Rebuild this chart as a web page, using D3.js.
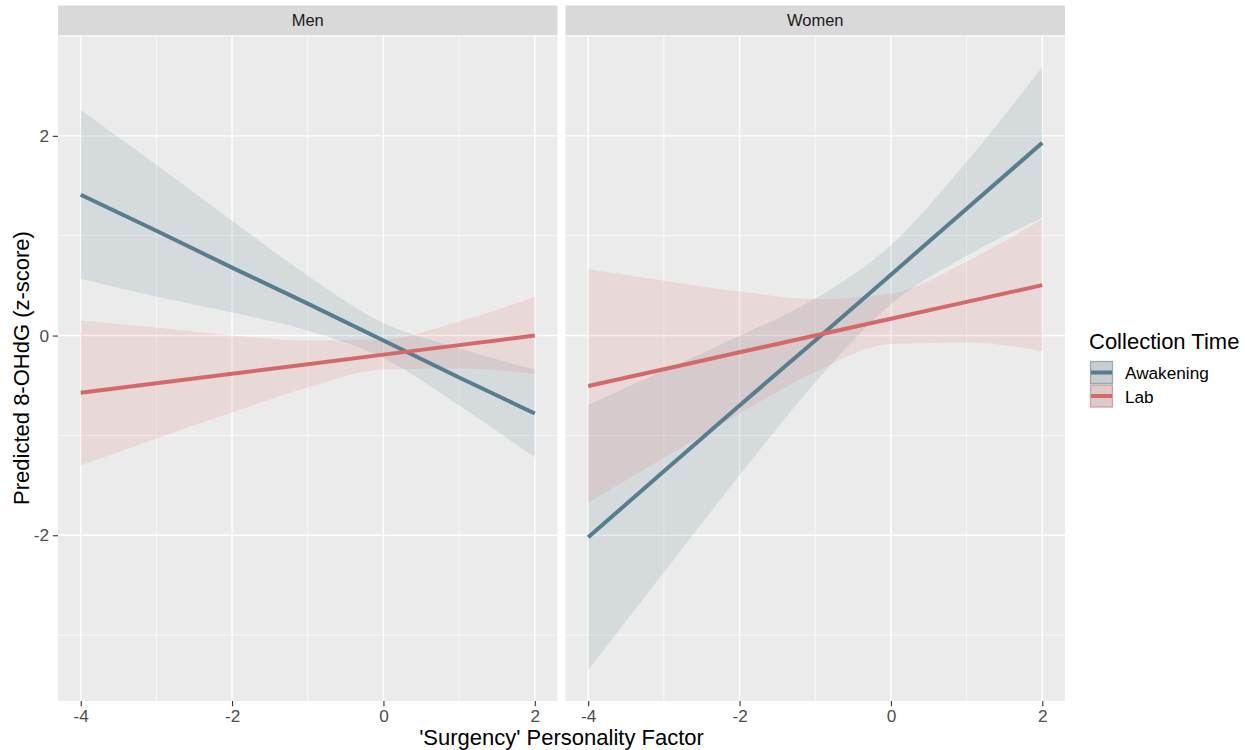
<!DOCTYPE html>
<html>
<head>
<meta charset="utf-8">
<script src="https://cdn.jsdelivr.net/npm/d3@7"></script>
<style>
  body { margin: 0; background: #fff; }
  svg { font-family: "Liberation Sans", Arial, sans-serif; }
</style>
</head>
<body>
<script>
// values, at each integer x
var xVals = [-4, -3, -2, -1, 0, 1, 2]
var facets = ['Men', 'Women']
var seriesNames = ['Awakening', 'Lab']

var menAwakeFit   = [1.41, 1.05, 0.68, 0.32, -0.05, -0.42, -0.78]
var menAwakeUpper = [2.26, 1.71, 1.15, 0.60, 0.125, -0.13, -0.34]
var menAwakeLower = [0.57, 0.39, 0.23, 0.05, -0.225, -0.70, -1.22]

var menLabFit   = [-0.573, -0.478, -0.382, -0.287, -0.191, -0.096, 0.0]
var menLabUpper = [0.15, 0.08, 0.0, -0.05, -0.04, 0.14, 0.385]
var menLabLower = [-1.30, -1.03, -0.77, -0.52, -0.34, -0.33, -0.385]

var womenAwakeFit   = [-2.02, -1.36, -0.70, -0.05, 0.61, 1.27, 1.93]
var womenAwakeUpper = [-0.695, -0.35, -0.005, 0.37, 0.905, 1.74, 2.69]
var womenAwakeLower = [-3.35, -2.37, -1.40, -0.47, 0.315, 0.80, 1.18]

var womenLabFit   = [-0.505, -0.337, -0.168, 0.0, 0.168, 0.337, 0.505]
var womenLabUpper = [0.665, 0.55, 0.44, 0.365, 0.42, 0.74, 1.165]
var womenLabLower = [-1.675, -1.225, -0.78, -0.365, -0.085, -0.07, -0.155]

var xMajor = [-4, -2, 0, 2], xMinor = [-3, -1, 1]
var yMajor = [-2, 0, 2], yMinor = [-3, -1, 1, 3]

var colors = {Awakening: '#587d8c', Lab: '#d4696b'}

// build rows for each facet / series
function rows(fit, lo, hi) {
    return xVals.map((x, i) => ({x: x, fit: fit[i], lo: lo[i], hi: hi[i]}))
}
var data = {
    Men:   {Awakening: rows(menAwakeFit, menAwakeLower, menAwakeUpper), Lab: rows(menLabFit, menLabLower, menLabUpper)},
    Women: {Awakening: rows(womenAwakeFit, womenAwakeLower, womenAwakeUpper), Lab: rows(womenLabFit, womenLabLower, womenLabUpper)}
}

var panelW = 499.5, panelH = 666, panelTop = 35, stripH = 29.5
var panelLeft = [58, 565.5]
var tickLen = 5.2
var smallFont = 17.2, bigFont = 22

var x = d3.scaleLinear().domain([-4.3, 2.3]).range([0, panelW])
var y = d3.scaleLinear().domain([-3.66, 3.01]).range([panelH, 0])

var svg = d3.select('body').append('svg').attr('width', 1245).attr('height', 750)

var area = d3.area().x(d => x(d.x)).y0(d => y(d.lo)).y1(d => y(d.hi)).curve(d3.curveMonotoneX)
var line = d3.line().x(d => x(d.x)).y(d => y(d.fit))

facets.forEach(function(f, i) {
    // strip
    svg.append('rect').attr('x', panelLeft[i]).attr('y', panelTop - stripH)
        .attr('width', panelW).attr('height', stripH).attr('fill', '#d9d9d9')
    svg.append('text').attr('x', panelLeft[i] + panelW / 2).attr('y', panelTop - stripH / 2 + 6)
        .attr('text-anchor', 'middle').attr('font-size', 16.5).attr('fill', '#1a1a1a').text(f)

    var g = svg.append('g').attr('transform', `translate(${panelLeft[i]}, ${panelTop})`)
    g.append('rect').attr('width', panelW).attr('height', panelH).attr('fill', '#ebebeb')

    // grid
    g.selectAll('.vminor').data(xMinor).enter().append('line')
        .attr('x1', d => x(d)).attr('x2', d => x(d)).attr('y1', 0).attr('y2', panelH)
        .attr('stroke', '#fff').attr('stroke-width', 0.7)
    g.selectAll('.hminor').data(yMinor).enter().append('line')
        .attr('y1', d => y(d)).attr('y2', d => y(d)).attr('x1', 0).attr('x2', panelW)
        .attr('stroke', '#fff').attr('stroke-width', 0.7)
    g.selectAll('.vmajor').data(xMajor).enter().append('line')
        .attr('x1', d => x(d)).attr('x2', d => x(d)).attr('y1', 0).attr('y2', panelH)
        .attr('stroke', '#fff').attr('stroke-width', 1.4)
    g.selectAll('.hmajor').data(yMajor).enter().append('line')
        .attr('y1', d => y(d)).attr('y2', d => y(d)).attr('x1', 0).attr('x2', panelW)
        .attr('stroke', '#fff').attr('stroke-width', 1.4)

    // ribbons then lines
    seriesNames.forEach(function(s) {
        g.append('path').attr('d', area(data[f][s]))
            .attr('fill', colors[s]).attr('fill-opacity', 0.15)
    })
    seriesNames.forEach(function(s) {
        g.append('path').attr('d', line(data[f][s]))
            .attr('fill', 'none').attr('stroke', colors[s]).attr('stroke-width', 4)
    })

    // x axis
    var xAxis = g.append('g').attr('transform', `translate(0, ${panelH})`)
        .call(d3.axisBottom(x).tickValues(xMajor).tickSize(tickLen).tickPadding(3.6).tickFormat(d => String(d)))
    xAxis.select('.domain').remove()
    xAxis.selectAll('line').attr('stroke', '#333').attr('stroke-width', 1.1)
    xAxis.selectAll('text').attr('fill', '#4d4d4d').attr('font-size', smallFont).attr('font-family', null)

    if (i === 0) {
        var yAxis = g.append('g')
            .call(d3.axisLeft(y).tickValues(yMajor).tickSize(tickLen).tickPadding(3.8).tickFormat(d => String(d)))
        yAxis.select('.domain').remove()
        yAxis.selectAll('line').attr('stroke', '#333').attr('stroke-width', 1.1)
        yAxis.selectAll('text').attr('fill', '#4d4d4d').attr('font-size', smallFont).attr('font-family', null)
    }
})

// axis titles
svg.append('text').attr('x', (panelLeft[0] + panelLeft[1] + panelW) / 2).attr('y', 745)
    .attr('text-anchor', 'middle').attr('font-size', bigFont).attr('fill', '#000')
    .text("'Surgency' Personality Factor")
svg.append('text').attr('transform', `translate(28.5, ${panelTop + panelH / 2}) rotate(-90)`)
    .attr('text-anchor', 'middle').attr('font-size', bigFont).attr('fill', '#000')
    .text('Predicted 8-OHdG (z-score)')

// legend
var legend = svg.append('g').attr('transform', 'translate(1089, 0)')
legend.append('text').attr('x', 0).attr('y', 349).attr('font-size', bigFont).attr('fill', '#000').text('Collection Time')
seriesNames.forEach(function(s, i) {
    var ky = 361 + i * 23.5
    legend.append('rect').attr('x', 1).attr('y', ky).attr('width', 23).attr('height', 23).attr('fill', '#dcdcdc')
    legend.append('rect').attr('x', 1.5).attr('y', ky + 0.5).attr('width', 22).attr('height', 22)
        .attr('fill', colors[s]).attr('fill-opacity', 0.15)
        .attr('stroke', colors[s]).attr('stroke-opacity', 0.5).attr('stroke-width', 1.3)
    legend.append('line').attr('x1', 2).attr('x2', 23).attr('y1', ky + 11.5).attr('y2', ky + 11.5)
        .attr('stroke', colors[s]).attr('stroke-width', 4)
    legend.append('text').attr('x', 36).attr('y', ky + 18).attr('font-size', smallFont).attr('fill', '#000').text(s)
})
</script>
</body>
</html>
